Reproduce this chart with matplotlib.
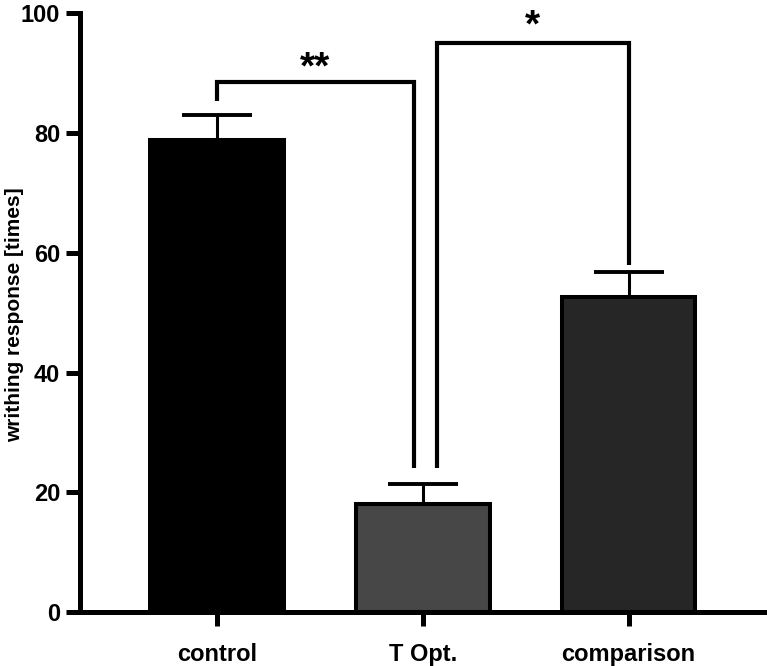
import matplotlib
matplotlib.use("Agg")
import matplotlib.pyplot as plt
import numpy as np

categories = ["control", "T Opt.", "comparison"]
means = [78.8, 18.0, 52.6]
errors = [4.2, 3.4, 4.2]
bar_colors = ["#000000", "#474747", "#262626"]

y_ticks = [0, 20, 40, 60, 80, 100]
y_label = "writhing response [times]"

# significance brackets: (x_left, x_right, y_top, y_left_end, y_right_end, label, label_y)
brackets = [
    (0.0, 0.955, 88.5, 85.3, 24.0, "**", 91.4),
    (1.07, 2.0, 95.0, 24.0, 58.0, "*", 98.4),
]

plt.rcParams['font.family'] = ['Liberation Sans', 'DejaVu Sans']
plt.rcParams['font.weight'] = 'bold'

fig = plt.figure(figsize=(7.67, 6.66), dpi=100)
ax = fig.add_axes([0.104, 0.081, 0.896, 0.899])

x = np.arange(len(categories))
ax.errorbar(x, means, yerr=[np.zeros(len(means)), errors], fmt='none',
            ecolor='black', elinewidth=2.2, capsize=25, capthick=2.8, zorder=1)
ax.bar(x, means, width=0.65, color=bar_colors, edgecolor='black', linewidth=2.9, zorder=2)

for xl, xr, yt, yl, yr, lab, ly in brackets:
    ax.plot([xl, xl, xr, xr], [yl, yt, yt, yr], color='black', lw=3.0,
            solid_joinstyle='miter', solid_capstyle='butt', zorder=3, clip_on=False)
    t = ax.text((xl + xr) / 2, ly, lab, ha='center', va='center_baseline', fontsize=28,
                fontweight='bold', zorder=4)

ax.set_xlim(-0.668, 2.673)
ax.set_ylim(0, 100)
ax.set_yticks(y_ticks)
ax.set_xticks(x)
ax.set_xticklabels(categories)
ax.set_ylabel(y_label, fontsize=15, fontweight='bold', va='center')
ax.yaxis.set_label_coords(-0.095, 0.497)

for s in ['top', 'right']:
    ax.spines[s].set_visible(False)
for s in ['left', 'bottom']:
    ax.spines[s].set_linewidth(3.6)
ax.tick_params(axis='both', width=3.6, length=10, labelsize=17, pad=4)
for lab in ax.get_xticklabels() + ax.get_yticklabels():
    lab.set_fontweight('bold')
ax.tick_params(axis='x', pad=12)

fig.savefig("out.png", dpi=100)
